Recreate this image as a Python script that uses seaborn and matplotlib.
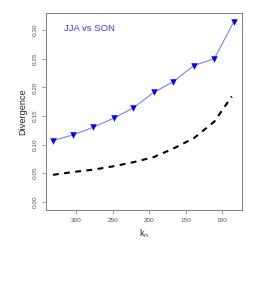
import matplotlib
matplotlib.use("Agg")
import matplotlib.pyplot as plt
import seaborn as sns
import pandas as pd

k_points = [332, 304, 277, 249, 222, 194, 167, 139, 111, 84]
div_points = [0.107, 0.117, 0.130, 0.146, 0.164, 0.191, 0.210, 0.238, 0.250, 0.315]

k_dash = [332, 304, 277, 249, 222, 194, 167, 139, 111, 87]
div_dash = [0.047, 0.052, 0.056, 0.062, 0.069, 0.078, 0.093, 0.111, 0.140, 0.184]

xticks = [300, 250, 200, 150, 100]
yticks = [0.00, 0.05, 0.10, 0.15, 0.20, 0.25, 0.30]

sns.set_style("white")
plt.rcParams['font.family'] = ['Liberation Sans', 'DejaVu Sans']

fig = plt.figure(figsize=(2.73, 2.83), dpi=100)
ax = fig.add_axes([46/273, 1-210/283, (242-46)/273, (210-13)/283])

df_pts = pd.DataFrame({"k": k_points, "d": div_points})
df_dash = pd.DataFrame({"k": k_dash, "d": div_dash})

sns.lineplot(data=df_dash, x="k", y="d", ax=ax, color="black", lw=1.5,
             linestyle=(0, (2.8, 2.6)), sort=False)
sns.lineplot(data=df_pts, x="k", y="d", ax=ax, color="#7f7fff", lw=0.8, sort=False)
ax.scatter(k_points, div_points, marker="v", s=22, color="#0000ff", zorder=5, linewidths=0)

ax.set_xlim(341.5, 73)
ax.set_ylim(-0.0145, 0.330)
ax.set_xticks(xticks)
ax.set_xticklabels([str(v) for v in xticks])
ax.set_yticks(yticks)
ax.set_yticklabels([f"{v:.2f}" for v in yticks], rotation=90, va="center")

for s in ax.spines.values():
    s.set_color("#888888")
    s.set_linewidth(0.8)
ax.tick_params(axis="both", direction="out", length=3.2, width=0.6, color="#888888",
               labelsize=4.6, labelcolor="#555555", pad=2.5)
ax.tick_params(axis="x", bottom=True)
ax.tick_params(axis="y", left=True)

ax.set_xlabel("k$_n$", fontsize=6.6, labelpad=3)
ax.set_ylabel("Divergence", fontsize=6.6, labelpad=4)
ax.text(0.09, 0.92, "JJA vs SON", transform=ax.transAxes, color="#3838ff",
        fontsize=6.8, ha="left", va="center")

fig.savefig("out.png", dpi=100)
